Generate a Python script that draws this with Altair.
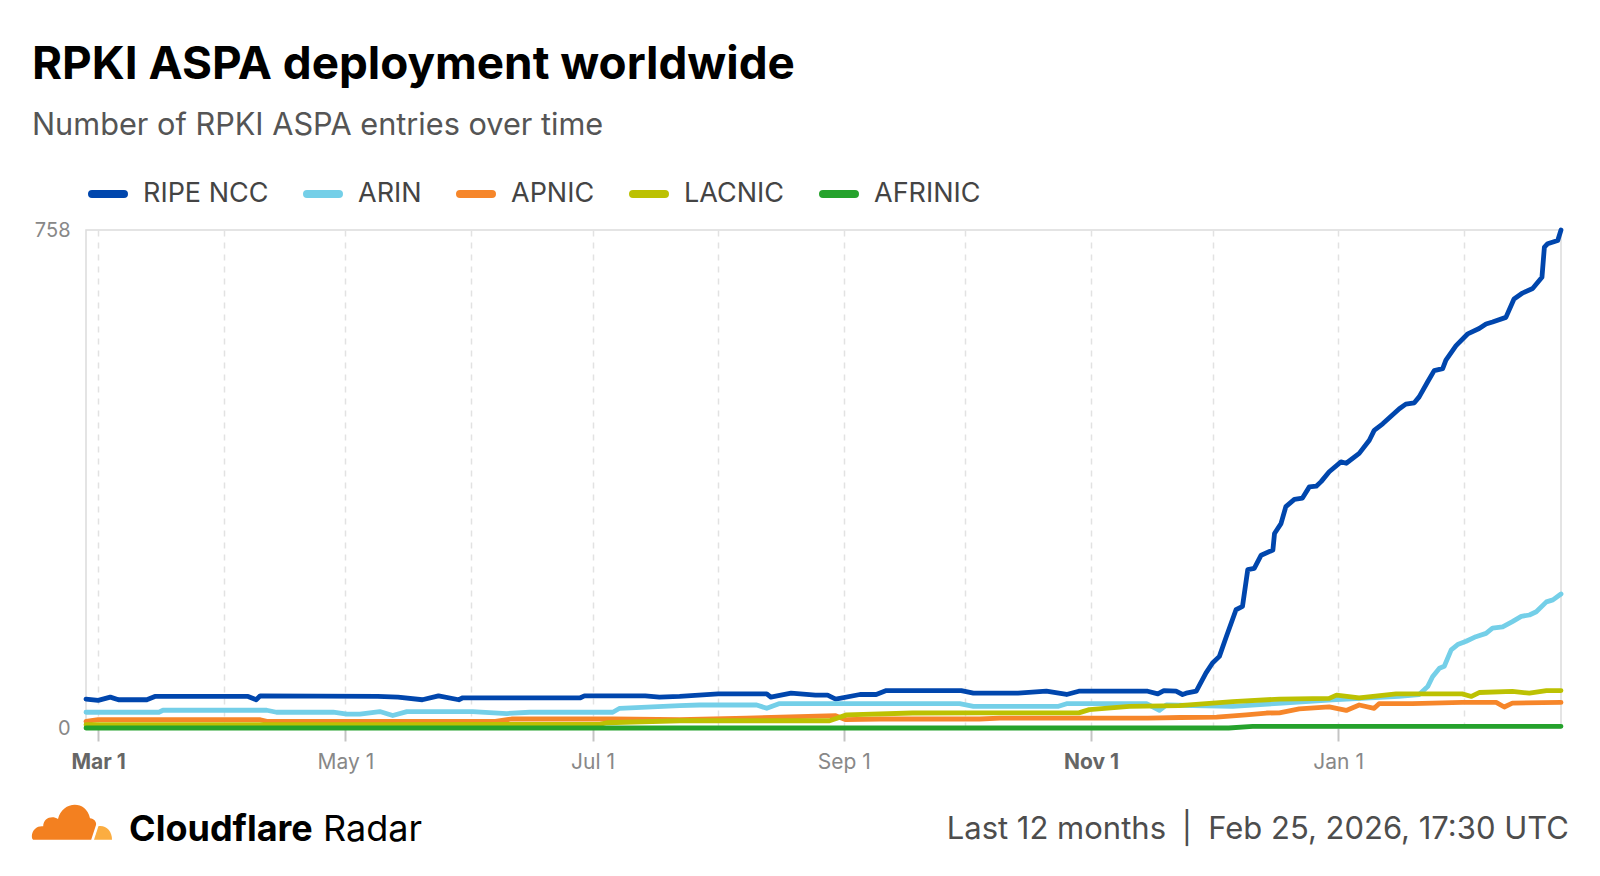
import altair as alt
import pandas as pd

FONT = "Inter"
START = pd.Timestamp("2025-02-26")

series_names = ["RIPE NCC", "ARIN", "APNIC", "LACNIC", "AFRINIC"]
series_colors = ["#0046ad", "#74cfe8", "#f6862a", "#bcc102", "#25a22c"]

# day offsets from 2025-02-26 and values
ripe_days = [0, 3, 6, 8, 15, 17, 40, 42, 43, 72, 77, 83, 87, 92, 93, 122, 123, 138, 141.5, 146.5,
             156, 168, 169, 174, 180, 183, 185, 191, 195, 197.5, 216, 219, 230, 237, 242, 245,
             262, 264.5, 266, 269, 270.6, 271.5, 274, 276.4, 278, 279.7, 281.4, 283.8, 285.4,
             286.7, 288.3, 290, 292.9, 293.3, 294.9, 296.1, 298.2, 300.2, 301.9, 303.6, 304.8,
             306.8, 309.7, 311, 314.2, 316.7, 317.9, 320, 324.1, 325.7, 327.8, 329, 331.1, 332.7,
             334.8, 335.6, 338.1, 341, 343.8, 345.5, 347.1, 350.4, 352.4, 354.5, 357, 359.3,
             359.9, 360.7, 363.2, 364]
ripe_vals = [44, 42, 47, 43, 43, 48, 48, 43, 49, 48, 47, 43, 49, 43, 46, 46, 49, 49, 47, 48,
             52, 52, 47, 53, 50, 50, 44, 51, 51, 57, 57, 53, 53, 56, 51, 56,
             56, 52, 57, 56, 51, 53, 56, 84, 99, 109, 139, 180, 185,
             241, 243, 263, 271, 296, 311, 337, 348, 350, 367, 368, 375,
             390, 405, 403, 418, 438, 453, 463, 486, 493, 495, 504, 527, 544,
             547, 560, 582, 600, 608, 615, 618, 625, 653, 662, 669, 686,
             732, 737, 742, 758]

arin_days = [0, 18, 19, 44.6, 47, 61, 64.4, 67.6, 72.5, 75.7, 79.2, 95.4, 103.8, 109.5, 130,
             131.7, 146.5, 151.4, 165.5, 168, 171, 215.6, 219, 240, 242, 261.7, 264.9, 266.6,
             283, 295.3, 307.6, 324, 329, 331.1, 332.3, 334, 335.2, 336.9, 338.5, 340.6, 343,
             345.5, 347.1, 349.6, 352, 354.2, 356.2, 357.9, 360.4, 362, 364]
arin_vals = [24, 24, 27, 27, 24, 24, 21, 21, 25, 19, 25, 25, 22, 24, 24,
             30, 34, 35, 35, 30, 37, 37, 33, 33, 37, 37, 27, 35,
             33, 38, 43, 48, 51, 63, 78, 91, 94, 119, 127, 132, 139,
             144, 152, 154, 162, 170, 172, 177, 192, 195, 204]

apnic_days = [0, 3, 43, 44.6, 101, 105, 130, 146.5, 163, 185, 187.5, 196, 220.5, 225.5, 262,
              270, 279, 286.3, 291.3, 294.5, 299.4, 306.8, 311, 314.2, 317.9, 319.1, 327.3,
              339.6, 348, 350, 352, 364]
apnic_vals = [10, 12.6, 12.6, 10, 10, 13.7, 13.7, 12.6, 15, 18.7, 12.6, 13.7, 13.7, 15, 15,
              16, 16.7, 20, 22.8, 23, 29, 32, 26.7, 35, 30, 37, 37,
              39, 39, 32, 38, 39]

lacnic_days = [0, 72.5, 127, 128.5, 146.5, 183.5, 187.7, 204, 220.5, 245, 247.6, 257.5, 269.8,
               283, 294.5, 306.8, 308.6, 314.2, 323.3, 339.6, 341.9, 343.8, 352, 356.2, 360.4, 364]
lacnic_vals = [5, 5, 6, 8, 11, 11, 20, 22.8, 23, 23, 28, 33, 34,
               40, 44, 45, 50, 46, 52, 52, 48, 54, 55.6, 53, 57, 57]

afrinic_days = [0, 282, 287.9, 364]
afrinic_vals = [0, 0, 2.5, 2.5]

y_ticks = [0, 758]
month_list = [(2025, m) for m in range(3, 13)] + [(2026, 1), (2026, 2)]

title_text = "RPKI ASPA deployment worldwide"
subtitle_text = "Number of RPKI ASPA entries over time"
footer_period = "Last 12 months"
footer_sep = "|"
footer_stamp = "Feb 25, 2026, 17:30 UTC"

series_data = [
    ("RIPE NCC", ripe_days, ripe_vals),
    ("ARIN", arin_days, arin_vals),
    ("APNIC", apnic_days, apnic_vals),
    ("LACNIC", lacnic_days, lacnic_vals),
    ("AFRINIC", afrinic_days, afrinic_vals),
]
rows = []
for name, days, vals in series_data:
    assert len(days) == len(vals), name
    for d, v in zip(days, vals):
        ts = START + pd.to_timedelta(d, unit="D")
        rows.append({"date": ts.strftime("%Y-%m-%dT%H:%M:%SZ"), "value": v, "series": name})
df = pd.DataFrame(rows)

PILL = "M-0.8,-0.1L0.8,-0.1A0.1,0.1 0 0 1 0.8,0.1L-0.8,0.1A0.1,0.1 0 0 1 -0.8,-0.1Z"

month_ticks = [alt.DateTime(year=y, month=m, date=1, utc=True) for y, m in month_list]
even = "utcmonth(datum.value) % 2 == 0"
bold_test = "utcmonth(datum.value) == 2 || utcmonth(datum.value) == 10"

x_enc = alt.X(
    "date:T",
    scale=alt.Scale(type="utc", domain=[alt.DateTime(year=2025, month=2, date=26, utc=True),
                                        alt.DateTime(year=2026, month=2, date=25, utc=True)]),
    axis=alt.Axis(
        values=month_ticks, format="%b %-d",
        labelExpr=f"{even} ? datum.label : ''",
        grid=True, gridDash=[6, 6], gridColor="#e2e2e2", gridWidth=1.5,
        domain=False, tickSize=13, tickWidth=2, tickColor="#c4c4c4",
        tickOpacity={"condition": {"test": even, "value": 1}, "value": 0},
        labelFont=FONT, labelFontSize=21,
        labelColor={"condition": {"test": bold_test, "value": "#666666"}, "value": "#888888"},
        labelFontWeight={"condition": {"test": bold_test, "value": "bold"}, "value": "normal"},
        labelPadding=10, labelOverlap=False, labelFlush=False, title=None,
    ),
)
y_enc = alt.Y(
    "value:Q",
    scale=alt.Scale(domain=[0, 758], nice=False, zero=True),
    axis=alt.Axis(values=y_ticks, grid=False, domain=False, ticks=False, labelFont=FONT,
                  labelFontSize=20, labelColor="#888888", labelPadding=16, title=None),
)
legend = alt.Legend(
    title=None, orient="none", legendX=0, legendY=-58, direction="horizontal",
    symbolType=PILL, symbolSize=1600, symbolStrokeWidth=4, symbolOpacity=1,
    labelFont=FONT, labelFontSize=27, labelColor="#444444", labelOffset=13,
    columnPadding=28, padding=0, labelLimit=0,
)
color_enc = alt.Color("series:N", scale=alt.Scale(domain=series_names, range=series_colors),
                      legend=legend)

layers = []
for name in series_names:
    layers.append(
        alt.Chart(df).transform_filter(alt.datum.series == name)
        .mark_line(strokeWidth=4.8, strokeCap="round", strokeJoin="round")
        .encode(x=x_enc, y=y_enc, color=color_enc)
    )

anno = pd.DataFrame({"k": [0]})


def label(text, x, y, size, weight, color, align="left"):
    return alt.Chart(anno).mark_text(
        text=text, font=FONT, fontSize=size, fontWeight=weight, color=color,
        align=align, baseline="middle",
    ).encode(x=alt.value(x), y=alt.value(y))


CLOUD = ("M-0.95,0.42C-1.05,0.42 -1.02,0.05 -0.72,0.08C-0.72,-0.12 -0.5,-0.2 -0.35,-0.1"
         "C-0.25,-0.55 0.35,-0.6 0.45,-0.12C0.55,-0.12 0.62,-0.02 0.6,0.05L0.48,0.42Z")
CLOUD2 = "M0.55,0.42L0.66,0.08C0.85,0.05 1.0,0.2 1.0,0.42Z"

logo1 = alt.Chart(anno).mark_point(shape=CLOUD, size=6400, filled=True, color="#f38020",
                                   opacity=1, strokeWidth=0).encode(x=alt.value(-14), y=alt.value(593))
logo2 = alt.Chart(anno).mark_point(shape=CLOUD2, size=6400, filled=True, color="#fbad41",
                                   opacity=1, strokeWidth=0).encode(x=alt.value(-14), y=alt.value(593))

texts = [
    label(title_text, -54, -165, 45.8, "bold", "#000000"),
    label(subtitle_text, -54, -104, 30.7, "normal", "#555555"),
    label("Cloudflare", 43, 600, 36, "bold", "#000000"),
    label("Radar", 237, 600, 36, "normal", "#000000"),
    label(footer_period, 1080, 600, 31, "normal", "#4d4d4d", align="right"),
    label(footer_sep, 1101, 600, 31, "normal", "#4d4d4d", align="center"),
    label(footer_stamp, 1483, 600, 31, "normal", "#4d4d4d", align="right"),
]

chart = alt.layer(*layers, logo1, logo2, *texts).properties(
    width=1475, height=498,
    padding={"left": 78, "top": 222, "right": 31, "bottom": 140},
    autosize=alt.AutoSizeParams(type="none"),
    background="white",
).configure_view(stroke="#dcdcdc", strokeWidth=1.5)

chart.save("out.html", embed_options={"renderer": "svg", "actions": False})
